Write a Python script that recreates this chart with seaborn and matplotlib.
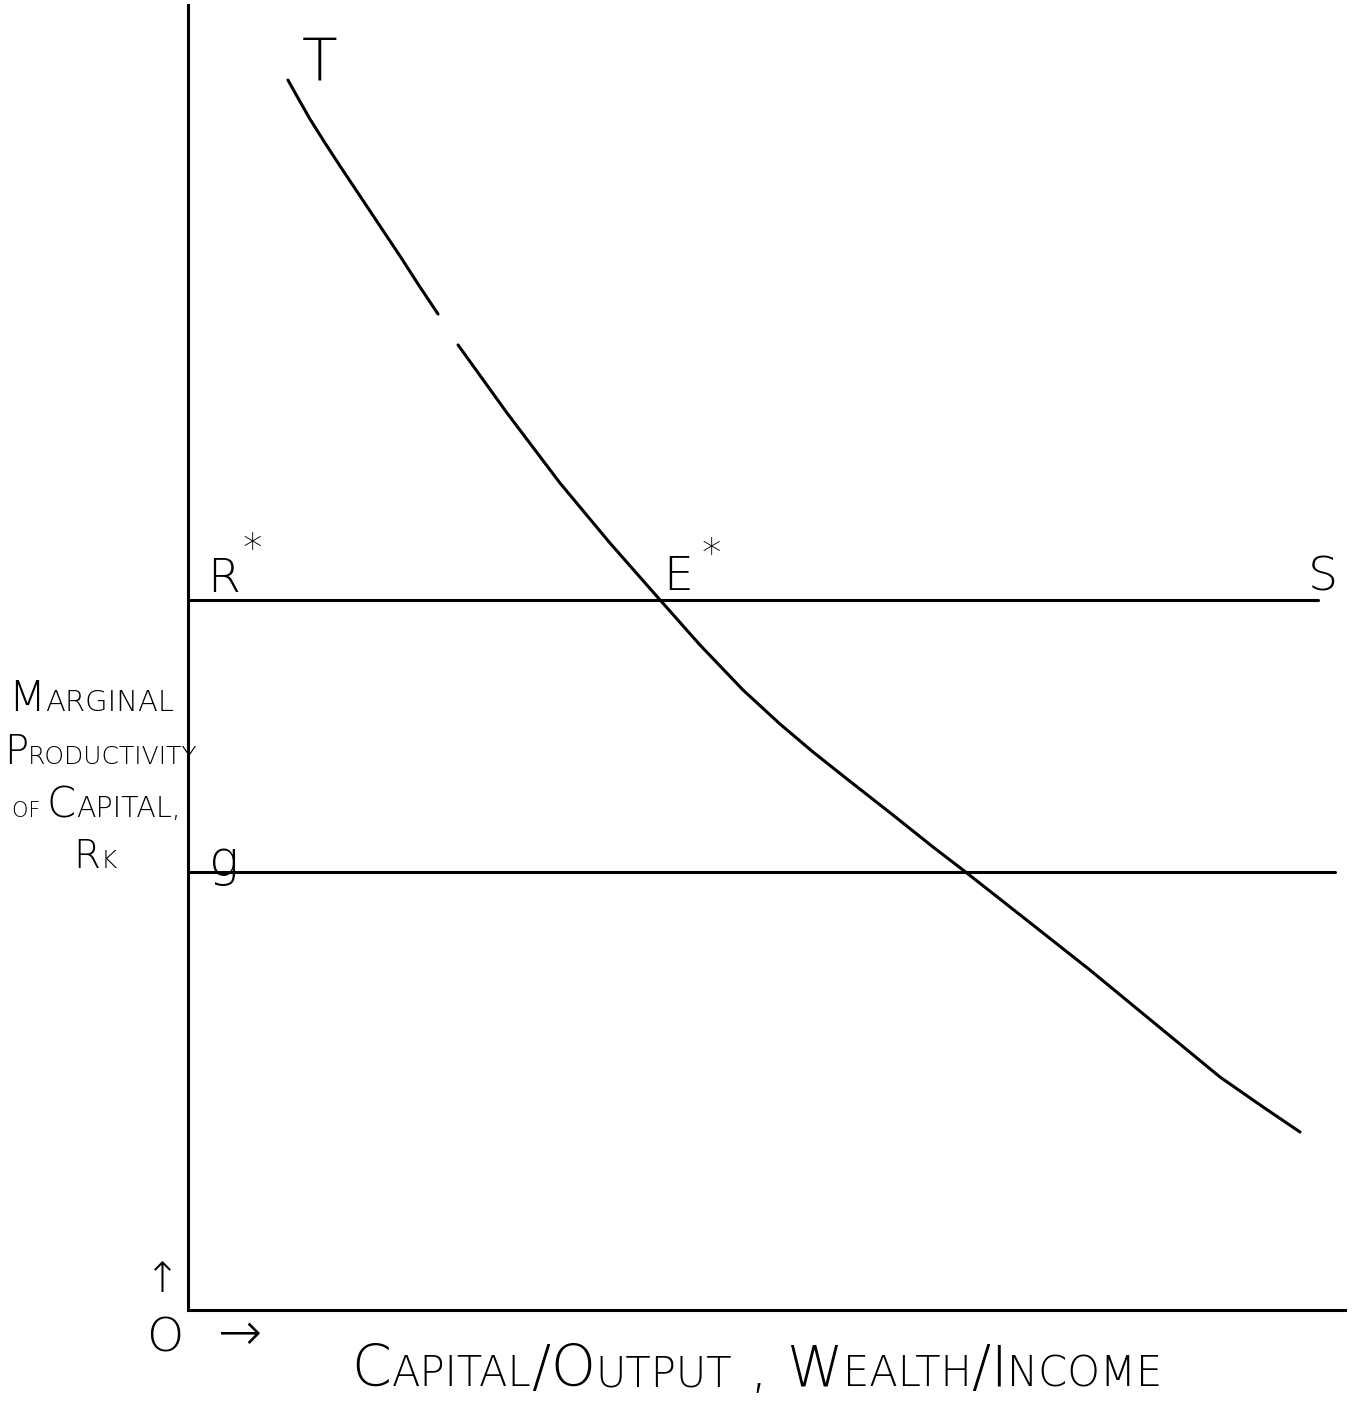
import matplotlib
matplotlib.use("Agg")
import numpy as np
import pandas as pd
import seaborn as sns
import matplotlib.pyplot as plt
from matplotlib.offsetbox import TextArea, HPacker, AnnotationBbox

# ---------------- data ----------------
# Curve T: marginal productivity of capital vs capital/output (arbitrary units 0-100)
curve_x = [8.64, 9.51, 10.54, 11.84, 13.14, 14.87, 16.59, 18.32, 20.05, 21.61,
           23.34, 27.57, 32.15, 36.47, 40.80, 44.25, 47.97, 51.17, 54.02, 56.96,
           60.93, 64.39, 66.98, 70.18, 73.03, 77.96, 82.89, 89.20, 92.91, 96.11]
curve_y = [94.25, 92.87, 91.26, 89.43, 87.66, 85.36, 83.07, 80.77, 78.39, 76.32,
           73.95, 68.74, 63.37, 58.77, 54.41, 50.96, 47.51, 44.90, 42.76, 40.69,
           37.93, 35.48, 33.72, 31.49, 29.50, 26.05, 22.45, 17.85, 15.56, 13.64]
curve_seg = [0] * 10 + [1] * 20          # the pen stroke has a small break

r_star_level = 54.4                     # R* ... S line
r_star_x = [0.0, 97.7]
g_level = 33.6                          # g line
g_x = [0.0, 99.1]

# ---------------- figure ----------------
sns.set_theme(style="white")
plt.rcParams["font.family"] = ["DejaVu Sans"]

W, H = 1362, 1407
fig = plt.figure(figsize=(W / 100, H / 100), dpi=100)
fig.patch.set_facecolor("white")

ax_l, ax_r, ax_t, ax_b = 188, 1345, 5, 1310
ax = fig.add_axes([ax_l / W, 1 - ax_b / H, (ax_r - ax_l) / W, (ax_b - ax_t) / H])
ax.set_facecolor("white")

LW = 2.2
df_t = pd.DataFrame({"x": curve_x, "y": curve_y, "seg": curve_seg})
sns.lineplot(data=df_t, x="x", y="y", units="seg", estimator=None, sort=False,
             color="black", lw=LW, ax=ax, legend=False)

df_r = pd.DataFrame({"x": r_star_x, "y": [r_star_level] * 2})
sns.lineplot(data=df_r, x="x", y="y", estimator=None, sort=False,
             color="black", lw=LW, ax=ax, legend=False)
df_g = pd.DataFrame({"x": g_x, "y": [g_level] * 2})
sns.lineplot(data=df_g, x="x", y="y", estimator=None, sort=False,
             color="black", lw=LW, ax=ax, legend=False)

ax.set_xlim(0, 100)
ax.set_ylim(0, 100)
ax.set_xticks([])
ax.set_yticks([])
ax.set_xlabel("")
ax.set_ylabel("")
for side in ("top", "right"):
    ax.spines[side].set_visible(False)
for side in ("left", "bottom"):
    ax.spines[side].set_visible(True)
    ax.spines[side].set_color("black")
    ax.spines[side].set_linewidth(LW)

FW = 200  # thin, pen-like strokes


def fx(px):
    return px / W


def fy(py):
    return 1 - py / H


def ptext(px, py, s, size, ha="center", va="baseline"):
    fig.text(fx(px), fy(py), s, fontsize=size, ha=ha, va=va,
             fontweight=FW, color="black")


def smallcaps(parts, cx, by, align=(0.5, 0.0)):
    kids = [TextArea(s, textprops=dict(fontsize=sz, fontweight=FW, color="black"))
            for s, sz in parts]
    pack = HPacker(children=kids, align="baseline", pad=0, sep=0)
    ab = AnnotationBbox(pack, (fx(cx), fy(by)), xycoords="figure fraction",
                        box_alignment=align, frameon=False, pad=0)
    fig.add_artist(ab)


# curve / line labels
ptext(320, 81, "T", 42)
ptext(224, 592, "R", 34)
ptext(252, 561, "*", 28)
ptext(678, 590, "E", 34)
ptext(711, 566, "*", 28)
ptext(1323, 590, "S", 34)
ptext(224, 876, "g", 36)

# y-axis label (small caps, hand-lettered look)
smallcaps([("M", 31), ("ARGINAL", 21)], 91, 719)
smallcaps([("P", 29), ("RODUCTIVITY", 18)], 101, 772)
smallcaps([("OF ", 15), ("C", 30), ("APITAL,", 20.5)], 96, 825)
smallcaps([("R", 28), ("K", 18)], 95, 876)

# origin / arrows
ptext(162, 1292, "↑", 30)
ptext(165, 1352, "O", 34)
ptext(240, 1350, "→", 38)

# x-axis label
B2, s2 = 41, 30
smallcaps([("C", B2), ("APITAL", s2), ("/", B2), ("O", B2), ("UTPUT", s2),
           (" , ", B2), ("W", B2), ("EALTH", s2), ("/", B2), ("I", B2), ("NCOME", s2)],
          757, 1398)

fig.savefig("out.png", dpi=100, facecolor="white")
